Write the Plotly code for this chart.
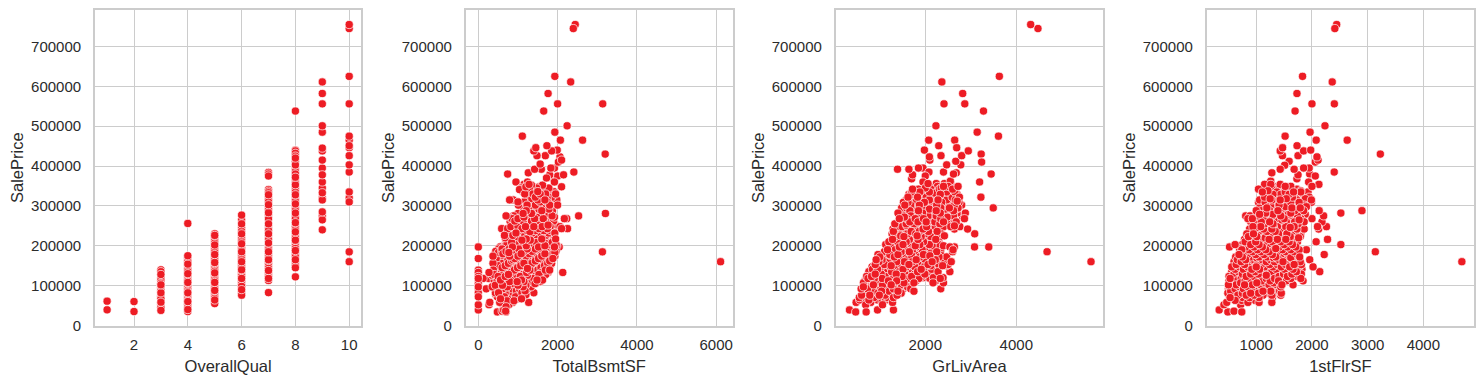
import plotly.graph_objects as go

FONT = "Liberation Sans"
TEXT = "#2b2b2b"
GRID = "#cccccc"
RED = "#ed1c24"

qual_levels = [1, 2, 3, 4, 5, 6, 7, 8, 9, 10]
qual_prices = [
    [39300, 61000],
    [35000, 60000],
    [37900, 45000, 52000, 58500, 67000, 72500, 76500, 82000, 87000, 94000, 98000, 102000, 106000, 113000, 119000, 128000, 135000, 139600],
    [34900, 40000, 45000, 52000, 55000, 60000, 62000, 67000, 72000, 78000, 82000, 85000, 89000, 93000, 98000, 103000, 108000, 112000, 115000, 120000, 125000, 130000, 135000, 140000, 143000, 149000, 154000, 160000, 163000, 168000, 172000, 175000, 256000],
    [55000, 60000, 64000, 68000, 72000, 76000, 80000, 84000, 88000, 92000, 96000, 100000, 104000, 108000, 112000, 116000, 120000, 124000, 128000, 132000, 136000, 140000, 144000, 148000, 153000, 158000, 163000, 168000, 173000, 178000, 183000, 188000, 192000, 197000, 202000, 207000, 212000, 217000, 222000, 226000, 230000],
    [76000, 81000, 90000, 98000, 103000, 110000, 118000, 123000, 128000, 133000, 140000, 145000, 149000, 155000, 160000, 165000, 170000, 175000, 180000, 185000, 189000, 195000, 200000, 205000, 210000, 216000, 222000, 230000, 236000, 245000, 255000, 265000, 277000],
    [82500, 113000, 118000, 122000, 127000, 132000, 138000, 143000, 148000, 155000, 160000, 165000, 170000, 175000, 180000, 185000, 190000, 195000, 200000, 207000, 215000, 222000, 230000, 238000, 247000, 255000, 267000, 275000, 283000, 290000, 295000, 303000, 310000, 316000, 322000, 328000, 333000, 337000, 341000, 375000, 380000, 384000],
    [122000, 145000, 150000, 157000, 165000, 172000, 178000, 183000, 188000, 193000, 198000, 203000, 208000, 214000, 220000, 225000, 230000, 235000, 240000, 248000, 258000, 268000, 275000, 282000, 288000, 293000, 300000, 305000, 311000, 316000, 322000, 328000, 334000, 340000, 347000, 353000, 358000, 365000, 372000, 380000, 386000, 395000, 403000, 412000, 420000, 425000, 432000, 438000, 440000, 538000],
    [240000, 265000, 275000, 285000, 315000, 320000, 333000, 345000, 360000, 378000, 395000, 415000, 438000, 445000, 485000, 501000, 556000, 582000, 611000],
    [160000, 184750, 310000, 320000, 335000, 385000, 403000, 426000, 446000, 451000, 465000, 475000, 556000, 625000, 745000, 755000],
]

bsmt_levels = [34000, 36000, 39000, 47000, 52000, 58000, 62000, 67000, 72000, 77000, 82000, 87000, 92000, 97000, 101000, 105000, 110000, 114000, 118000, 123000, 128000, 133000, 139000, 145000, 150000, 156000, 162000, 168000, 174000, 180000, 186000, 192000, 197000, 203000, 208000, 214000, 220000, 226000, 232000, 238000, 243000, 248000, 255000, 262000, 268000, 275000, 281000, 288000, 295000, 302000, 310000, 315000, 322000, 330000, 336000, 341000, 348000, 354000, 360000,
               108000, 126000, 143000, 165000, 183000, 200000, 217000, 235000, 252000, 272000, 292000, 318000, 345000, 352000]
bsmt_area = [
    [480, 700], [600, 690], [0, 640], [700], [270, 0, 620, 770], [290, 540, 870, 1270], [640, 720, 900], [560, 820, 1000, 1090],
    [0, 480, 660, 940], [440, 760, 1010, 1200], [0, 430, 510, 620, 880, 1100, 1400], [560, 700, 810, 960, 1180, 1300],
    [200, 0, 400, 640, 860, 1040, 1240], [0, 350, 520, 730, 930, 1130, 1330], [430, 610, 800, 1000, 1200, 1290],
    [0, 380, 540, 690, 880, 1070, 1260, 1430], [470, 630, 790, 980, 1150, 1350, 1560], [0, 400, 560, 720, 900, 1090, 1280, 1480, 1620],
    [0, 120, 260, 440, 640, 820, 1010, 1210, 1400, 1580], [0, 500, 680, 860, 1060, 1250, 1440, 1650], [400, 590, 760, 960, 1130, 1330, 1530, 1700],
    [0, 270, 450, 640, 830, 1020, 1220, 1420, 1600, 1760, 2130], [0, 380, 540, 720, 910, 1100, 1300, 1500, 1690, 1800], [420, 600, 800, 990, 1190, 1390, 1580, 1790],
    [500, 680, 880, 1070, 1270, 1470, 1670, 1820], [370, 570, 760, 960, 1150, 1350, 1550, 1750, 1850], [400, 640, 840, 1040, 1240, 1440, 1640, 1800],
    [0, 450, 720, 920, 1120, 1320, 1520, 1720, 1880], [370, 560, 790, 1000, 1200, 1400, 1600, 1790, 1930], [420, 620, 860, 1080, 1280, 1480, 1680, 1880],
    [440, 590, 700, 940, 1150, 1360, 1560, 1770, 1960], [510, 600, 780, 1020, 1230, 1440, 1640, 1850], [0, 550, 660, 860, 1090, 1300, 1520, 1720, 1920, 2040],
    [720, 930, 1160, 1380, 1590, 1800, 1960], [690, 840, 1030, 1240, 1460, 1670, 1860], [700, 900, 1100, 1310, 1530, 1740, 1900], [680, 800, 990, 1190, 1400, 1610, 1860],
    [660, 870, 1060, 1270, 1480, 1700, 1870], [720, 950, 1150, 1360, 1570, 1780, 1930], [760, 1020, 1230, 1440, 1650, 1830], [590, 740, 900, 1100, 1310, 1530, 1740, 2100, 2250],
    [820, 1000, 1190, 1400, 1610, 1810, 2060], [850, 1070, 1280, 1500, 1700, 1880], [800, 920, 1130, 1340, 1570, 1780, 1900], [850, 1000, 1200, 1420, 1640, 1830, 2170, 2230],
    [700, 890, 1060, 1270, 1490, 1700, 1860, 2530], [1000, 1130, 1340, 1570, 1780, 3206], [1080, 1210, 1410, 1600, 1870], [1140, 1280, 1480, 1670],
    [1010, 1230, 1440, 1640, 1800, 2000], [1000, 1160, 1360, 1560, 1740, 1960], [790, 880, 1300, 1500, 1680, 1980], [1240, 1440, 1640, 1850],
    [1170, 1380, 1560, 1700, 1950], [1120, 1290, 1500, 1690, 1900], [1040, 1290, 1440, 1650], [1200, 1390, 1520, 2100], [1150, 1280], [950, 1240, 1920],
    [560, 770, 1120, 1480], [350, 520, 900, 1240, 1620], [480, 860, 1240, 1710], [540, 880, 1250, 1620], [510, 770, 1210, 1600, 1930], [780, 1210, 1680, 1980],
    [810, 1210, 1600, 1950], [860, 1300, 1740], [930, 1340, 1760, 1950], [780, 1150, 1530, 1920], [1170, 1530, 1780], [1350, 1740], [1080, 1470, 1780], [1340, 1620],
]
bsmt_top_x = [1900, 1720, 2000, 1800, 2150, 740, 1260, 2410, 1920, 1830, 1590, 1420, 1560, 2020, 2100, 2060, 1480, 1690, 3200, 1850, 1400, 1990, 1450, 1730, 2070, 2630, 1110, 1930, 2240, 1650, 3138, 2000, 1760, 2330, 1930, 3130, 6110, 2396, 2444]
bsmt_top_y = [365000, 370000, 375000, 378000, 378000, 380000, 383000, 385000, 395000, 395000, 392000, 392000, 405000, 410000, 415000, 423000, 426000, 426000, 430000, 438000, 438000, 440000, 446000, 451000, 465000, 465000, 475000, 485000, 501000, 538000, 556000, 556000, 582000, 611000, 625000, 184750, 160000, 745000, 755000]

liv_levels = [34000, 39000, 52000, 58000, 64000, 70000, 76000, 81000, 86000, 92000, 97000, 102000, 107000, 112000, 118000, 123000, 129000, 135000, 141000, 147000, 153000, 160000, 165000, 172000, 178000, 185000, 190000, 197000, 203000, 210000, 216000, 223000, 230000, 236000, 242000, 248000, 255000, 260000, 268000, 275000, 282000, 288000, 295000, 302000, 309000, 315000, 322000, 329000, 335000, 342000, 349000,
              120000, 150000, 175000, 200000, 225000, 250000, 272000, 292000, 312000, 332000, 345000, 356000]
liv_area = [
    [470, 700], [334, 950, 1300], [690, 1060], [480, 800, 1050, 1280], [560, 760, 950, 1130], [550, 680, 870, 1180, 1300], [600, 780, 990, 1120, 1380],
    [630, 810, 960, 1090, 1270, 1470], [650, 860, 1040, 1210, 1400, 1750], [590, 730, 930, 1130, 1300, 1520, 1680, 2340], [640, 800, 1010, 1190, 1390, 1610],
    [700, 860, 1060, 1250, 1470, 1680], [640, 770, 920, 1120, 1320, 1530, 1750, 2170, 2400], [670, 820, 990, 1190, 1370, 1590, 1800, 2230],
    [740, 880, 1050, 1240, 1440, 1640, 1860, 2100, 2330], [710, 820, 950, 1120, 1300, 1490, 1700, 1920, 2280], [780, 900, 1030, 1190, 1360, 1550, 1770, 1990, 2180],
    [760, 860, 1000, 1100, 1260, 1430, 1620, 1830, 2060, 2280, 2540], [840, 950, 1170, 1330, 1510, 1700, 1910, 2140], [830, 880, 1020, 1230, 1400, 1580, 1770, 1980, 2210],
    [900, 1100, 1300, 1470, 1640, 1840, 2060, 2290, 2500], [980, 1180, 1370, 1540, 1720, 1920, 2150, 2570, 5642], [920, 1050, 1250, 1430, 1610, 1800, 2000, 2220, 2420],
    [1000, 1150, 1320, 1510, 1690, 1880, 2080, 2300, 2470], [960, 1220, 1400, 1580, 1770, 1960, 2180], [1100, 1280, 1470, 1650, 1850, 2050, 2250, 2600, 4676],
    [1170, 1340, 1540, 1720, 1930, 2130, 2340, 2610], [1240, 1430, 1620, 1800, 2000, 2210, 2540, 2640, 3082, 3395], [1130, 1300, 1510, 1700, 1880, 2090, 2290],
    [1200, 1390, 1580, 1770, 1960, 2160, 2300], [1280, 1460, 1650, 1840, 2030, 2230], [1340, 1530, 1720, 1910, 2120, 2320], [1270, 1420, 1610, 1790, 1990, 2190, 2350, 3086],
    [1300, 1500, 1690, 1870, 2070, 2260], [1290, 1400, 1580, 1760, 1950, 2140, 2350, 2640, 2930], [1380, 1490, 1660, 1840, 2030, 2220, 2400, 2560, 2760],
    [1330, 1580, 1750, 1930, 2120, 2320, 2480, 2620], [1500, 1660, 1840, 2020, 2210, 2400, 2680], [1430, 1600, 1780, 1960, 2150, 2340, 2530, 2860],
    [1480, 1680, 1860, 2060, 2240, 2440, 2620], [1400, 1560, 1750, 1940, 2130, 2330, 2520, 2700, 2880], [1500, 1660, 1850, 2040, 2240, 2430, 2620],
    [1480, 1590, 1760, 1950, 2150, 2340, 2530, 2720, 3493], [1550, 1680, 1870, 2060, 2250, 2450, 2640, 2800], [1520, 1620, 1790, 1980, 2170, 2360, 2560, 2740],
    [1580, 1720, 1900, 2090, 2280, 2470, 2660], [1620, 1830, 2020, 2200, 2400, 2590, 2750, 3222], [1640, 1760, 1950, 2140, 2330, 2520, 2700],
    [1700, 1880, 2090, 2280, 2470, 2650], [1720, 1850, 2120, 2310, 2480, 2600], [2090, 2270, 2400, 2500, 2720],
    [1500, 1950, 2180, 2390], [1250, 1680, 2120, 2380, 2460], [1240, 1700, 2100, 2360], [1400, 1780, 2150, 2400], [1460, 1820, 2220, 2420], [1600, 1960, 2290, 2640],
    [1540, 1900, 2260, 2480, 2820], [1730, 2090, 2440, 2680], [1800, 2120, 2490, 2700], [1920, 2220, 2560], [2000, 2350, 2620], [2060, 2240, 2420, 2560],
]
liv_top_x = [2550, 1950, 3194, 1700, 2000, 1720, 3447, 2620, 2680, 2080, 2400, 1390, 1640, 1950, 1850, 2470, 2780, 2670, 2100, 3238, 2090, 2345, 2800, 3228, 1980, 2945, 2690, 2296, 2075, 2646, 3608, 3140, 2234, 3279, 2411, 2868, 2822, 2364, 3627, 4476, 4316]
liv_top_y = [362000, 360000, 360000, 368000, 375000, 378000, 380000, 380000, 383000, 385000, 385000, 392000, 392000, 395000, 395000, 403000, 403000, 412000, 415000, 410000, 423000, 426000, 426000, 430000, 440000, 438000, 446000, 451000, 465000, 465000, 475000, 485000, 501000, 538000, 556000, 556000, 582000, 611000, 625000, 745000, 755000]

first_levels = [34000, 36000, 39000, 52000, 58000, 63000, 70000, 76000, 81000, 86000, 92000, 97000, 102000, 107000, 112000, 118000, 123000, 129000, 135000, 141000, 147000, 153000, 160000, 165000, 172000, 178000, 185000, 190000, 197000, 203000, 210000, 216000, 223000, 230000, 236000, 242000, 248000, 255000, 260000, 268000, 275000, 282000, 288000, 295000, 302000, 309000, 315000, 322000, 329000, 335000, 342000, 349000, 354000,
                 126000, 170000, 193000, 220000, 246000, 265000, 279000, 298000, 318000, 338000]
first_area = [
    [490, 740], [600], [334], [420, 720], [470, 850, 1050, 1280], [980, 740, 620], [530, 640, 760, 880, 1050, 1290], [510, 670, 820, 960, 1120, 1280, 1440],
    [490, 600, 750, 900, 1040, 1190, 1340, 1450], [540, 680, 830, 970, 1120, 1260, 1420], [500, 620, 770, 910, 1060, 1200, 1350], [520, 700, 850, 1000, 1140, 1290, 1440],
    [500, 640, 790, 930, 1080, 1230, 1370, 1460, 1660], [560, 720, 860, 1010, 1160, 1310, 1480], [510, 650, 800, 950, 1100, 1250, 1400, 1540, 1840], [530, 730, 880, 1030, 1180, 1330, 1470, 1620, 1800],
    [510, 660, 820, 960, 1110, 1260, 1410, 1560, 1730], [600, 750, 900, 1040, 1190, 1340, 1490, 1640, 1810], [560, 680, 830, 980, 1130, 1280, 1420, 1570, 1720, 2140],
    [620, 770, 920, 1060, 1210, 1360, 1510, 1660, 1820], [560, 700, 850, 1000, 1150, 1300, 1450, 1600, 1760, 2020], [640, 790, 940, 1090, 1240, 1380, 1530, 1680, 1810],
    [600, 730, 880, 1030, 1180, 1330, 1480, 1630, 1790, 4692], [660, 810, 960, 1110, 1260, 1410, 1560, 1710, 1960], [630, 750, 900, 1050, 1200, 1350, 1500, 1650, 1780],
    [690, 840, 990, 1140, 1290, 1440, 1590, 1740, 2220], [720, 780, 930, 1080, 1230, 1380, 1530, 1680, 3138], [740, 870, 1020, 1170, 1320, 1470, 1620, 1770, 1900],
    [520, 810, 960, 1110, 1260, 1410, 1560, 1710], [620, 750, 900, 1050, 1200, 1350, 1500, 1650, 2519], [800, 990, 1140, 1290, 1440, 1590, 1740, 2075], [790, 930, 1080, 1230, 1380, 1530, 1680, 2280],
    [860, 1010, 1160, 1310, 1460, 1610, 1790], [830, 950, 1100, 1250, 1400, 1550, 1700, 1800], [900, 1040, 1190, 1340, 1490, 1640], [880, 980, 1130, 1280, 1430, 1580, 1730, 1860, 2120],
    [940, 1080, 1230, 1380, 1530, 1680, 2100, 2260], [1000, 1150, 1300, 1450, 1600, 1750], [900, 1090, 1240, 1390, 1540, 1690, 1860, 2180], [850, 930, 1050, 1200, 1350, 1500, 1650, 1800, 2000],
    [810, 890, 1010, 1140, 1290, 1440, 1590, 1740, 2210], [1020, 1170, 1320, 1470, 1620, 1780, 2519], [1000, 1090, 1240, 1390, 1540, 1690, 1850, 2130, 2898], [1060, 1190, 1340, 1490, 1640, 1790],
    [1260, 1410, 1560, 1710, 1860], [1040, 1160, 1320, 1470, 1620, 1770, 1990], [1060, 1280, 1430, 1580, 1730, 1990], [1150, 1350, 1500, 1650, 1800, 1950], [1180, 1300, 1440, 1590, 1740, 1850],
    [1110, 1370, 1520, 1670, 1800, 1930], [1040, 1130, 1440, 1590, 1730], [1310, 1420, 1520, 1620, 2000], [1150, 1260, 1430, 2125],
    [730, 1180, 1500], [690, 1010, 1310, 1620], [700, 1040, 1350, 1690], [880, 1160, 1470, 1760], [1040, 1310, 1610], [1130, 1460, 1770], [1060, 1300, 1580, 1880], [1210, 1530, 1900], [1250, 1540, 1880], [1210, 1510, 1800],
]
first_top_x = [1260, 1940, 1730, 2060, 1750, 1960, 1280, 2400, 1950, 1850, 1680, 1430, 1510, 1590, 2060, 2110, 2090, 1470, 1750, 3228, 1850, 1430, 1978, 1473, 1732, 2076, 2633, 1518, 1966, 2234, 1697, 2000, 2402, 1731, 2364, 1831, 2411, 2444]
first_top_y = [362000, 360000, 368000, 375000, 378000, 380000, 383000, 385000, 395000, 395000, 392000, 392000, 402000, 412000, 410000, 415000, 423000, 426000, 426000, 430000, 438000, 438000, 440000, 446000, 451000, 465000, 465000, 475000, 485000, 501000, 538000, 556000, 556000, 582000, 611000, 625000, 745000, 755000]

panel_titles = ["OverallQual", "TotalBsmtSF", "GrLivArea", "1stFlrSF"]
x_ranges = [[0.55, 10.45], [-318, 6416], [31, 5912], [110, 4910]]
x_ticks = [[2, 4, 6, 8, 10], [0, 2000, 4000, 6000], [2000, 4000], [1000, 2000, 3000, 4000]]
y_ticks = [0, 100000, 200000, 300000, 400000, 500000, 600000, 700000]
y_range = [0, 791500]


def expand(levels, groups, flat_x=(), flat_y=()):
    xs, ys = [], []
    for level, group in zip(levels, groups):
        xs += group
        ys += [level] * len(group)
    return xs + list(flat_x), ys + list(flat_y)


def draw_order(xs, ys):
    # Only the paint order changes, so dots overlap unevenly as in the reference.
    idx = sorted(range(len(xs)), key=lambda i: (int(xs[i] * 131) + ys[i] // 1000 * 977) % 1021)
    return [xs[i] for i in idx], [ys[i] for i in idx]


series = [
    draw_order([q for q, g in zip(qual_levels, qual_prices) for _ in g], [p for g in qual_prices for p in g]),
    draw_order(*expand(bsmt_levels, bsmt_area, bsmt_top_x, bsmt_top_y)),
    draw_order(*expand(liv_levels, liv_area, liv_top_x, liv_top_y)),
    draw_order(*expand(first_levels, first_area, first_top_x, first_top_y)),
]

W, H = 1484, 384
boxes = [(95.0, 361.3), (465.7, 732.7), (835.7, 1103.3), (1206.7, 1474.0)]
top_px, bottom_px = 10.0, 325.5

fig = go.Figure()
axis_common = dict(
    showgrid=True, gridcolor=GRID, gridwidth=1.1, zeroline=False, automargin=False,
    showline=True, linecolor=GRID, linewidth=1.7, mirror=True, ticks="",
    tickfont=dict(family=FONT, size=15, color=TEXT),
)
layout = {}
for i, (box, (xs, ys)) in enumerate(zip(boxes, series)):
    n = "" if i == 0 else str(i + 1)
    fig.add_trace(go.Scatter(
        x=xs, y=ys, mode="markers", xaxis="x" + n, yaxis="y" + n, showlegend=False,
        marker=dict(color=RED, size=8.2, line=dict(color="white", width=0.7)),
    ))
    layout["xaxis" + n] = dict(
        axis_common, domain=[box[0] / W, box[1] / W], range=x_ranges[i], anchor="y" + n,
        tickmode="array", tickvals=x_ticks[i], ticktext=[str(t) for t in x_ticks[i]],
        ticklabelstandoff=5,
        title=dict(text=panel_titles[i], font=dict(family=FONT, size=16.5, color=TEXT), standoff=8),
    )
    layout["yaxis" + n] = dict(
        axis_common, domain=[1 - bottom_px / H, 1 - top_px / H], range=y_range, anchor="x" + n,
        tickmode="array", tickvals=y_ticks, ticktext=[str(t) for t in y_ticks],
        ticklabelstandoff=9,
        title=dict(text="SalePrice", font=dict(family=FONT, size=16.5, color=TEXT), standoff=3),
    )

fig.update_layout(
    width=W, height=H, autosize=False, margin=dict(l=0, r=0, t=0, b=0),
    paper_bgcolor="white", plot_bgcolor="white", **layout,
)
fig.write_html("out.html", config={"displayModeBar": False, "responsive": False},
               post_script="document.body.style.margin='0';document.body.style.overflow='hidden';")
